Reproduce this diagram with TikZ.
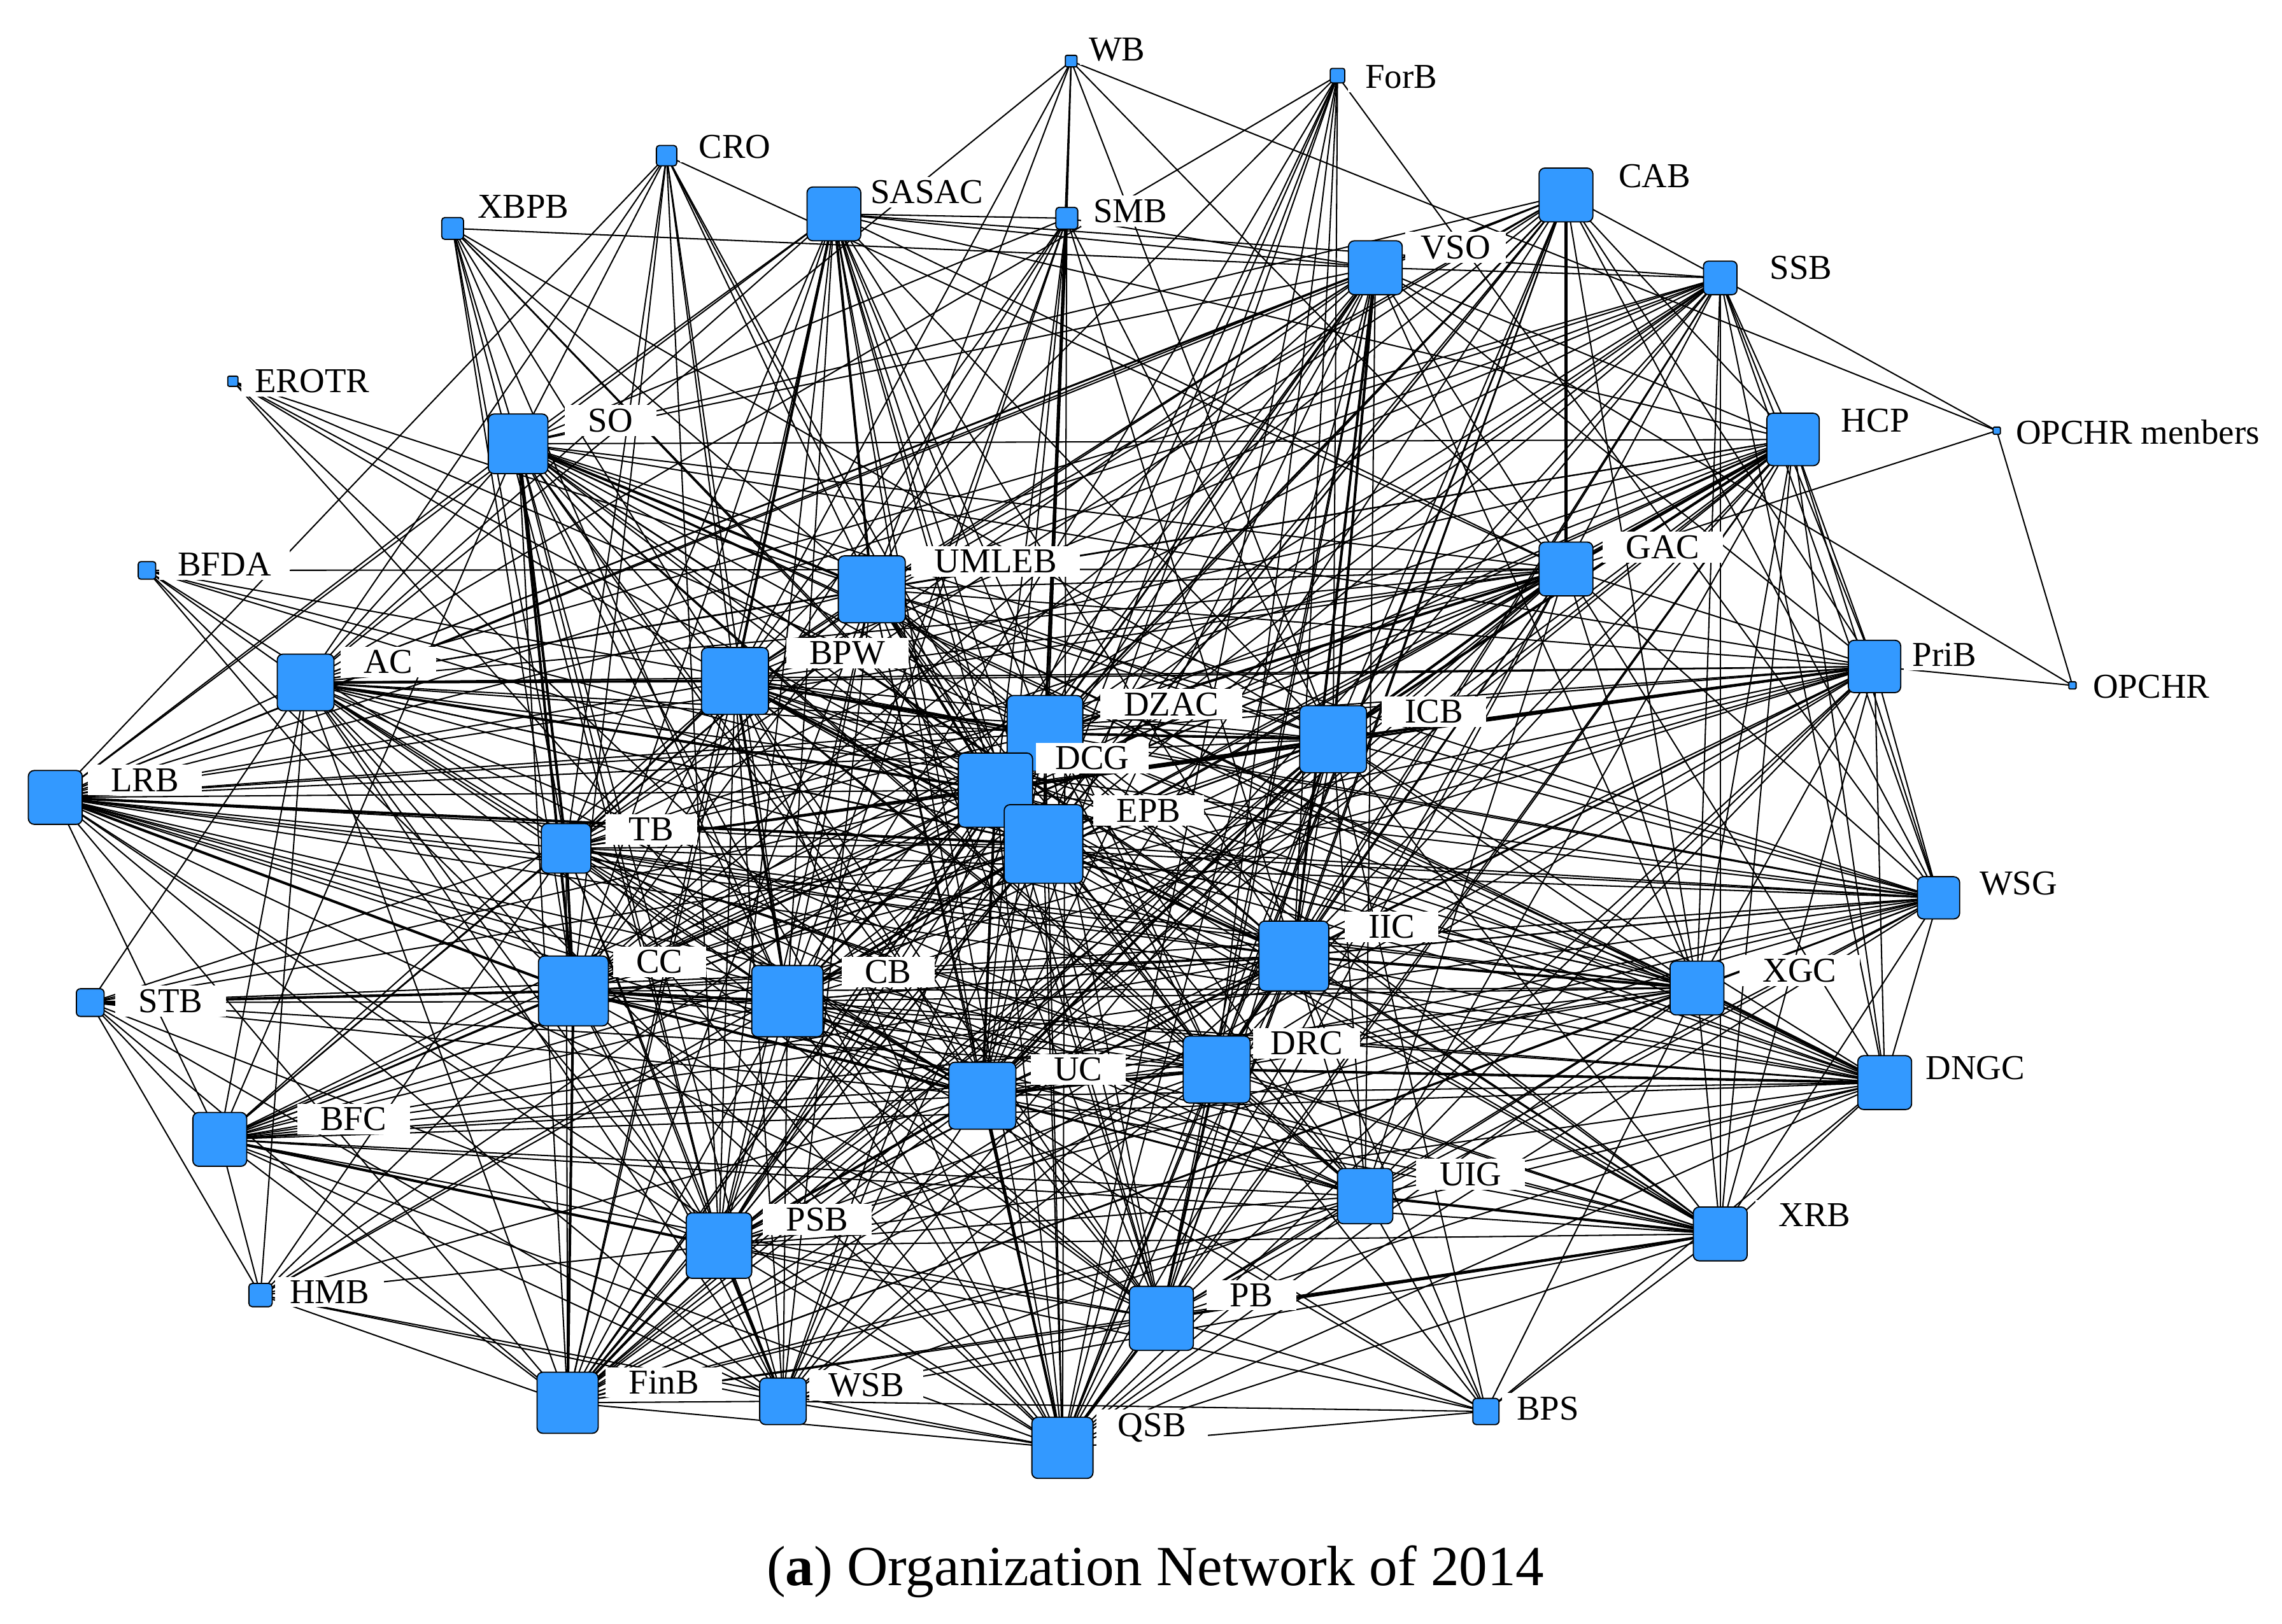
\documentclass[tikz,border=0pt]{standalone}
\usepackage{fontspec}
\setmainfont{Liberation Serif}
\pgfdeclarelayer{bg}
\pgfsetlayers{bg,main}
\definecolor{nodeblue}{RGB}{51,153,255}
\tikzset{
  box/.style={draw=black, line width=0.8pt, fill=nodeblue,
    minimum size=#1, inner sep=0pt},
  lab/.style={fill=white, inner ysep=2.5pt, anchor=west,
    font=\fontsize{24}{26}\selectfont},
  edge/.style={line width=0.9pt, draw=black},
  heavyedge/.style={line width=1.8pt, draw=black},
}
\newcommand\orgnode[7]{%
  \pgfmathsetmacro\rc{min(4,#4/7)}%
  \pgfmathsetmacro\gx{max(2,min(16,#6-#2-#4/2-2))}%
  \node[box=#4pt, rounded corners=\rc pt] (#1) at (#2,#3) {};
  \node[lab, inner xsep=\gx pt] (#1-l) at (#6-\gx,#7) {#5};}
\begin{document}
\begin{tikzpicture}[x=1pt,y=-1pt]
\useasboundingbox (0,0) rectangle (1568,1116);
\orgnode{WB}{736}{42}{8}{WB}{748}{34}
\orgnode{ForB}{919}{52}{10}{ForB}{938}{53}
\orgnode{CRO}{458}{107}{14}{CRO}{480}{101}
\orgnode{XBPB}{311}{157}{15}{XBPB}{328}{142}
\orgnode{SASAC}{573}{147}{37}{SASAC}{598}{132}
\orgnode{SMB}{733}{150}{15}{SMB}{751}{145}
\orgnode{CAB}{1076}{134}{37}{CAB}{1112}{121}
\orgnode{VSO}{945}{184}{37}{VSO}{976}{170}
\orgnode{SSB}{1182}{191}{23}{SSB}{1216}{184}
\orgnode{EROTR}{160}{262}{7}{EROTR}{175}{262}
\orgnode{SO}{356}{305}{41}{SO}{404}{289}
\orgnode{HCP}{1232}{302}{36}{HCP}{1265}{289}
\orgnode{OPCHRm}{1372}{296}{5}{OPCHR menbers}{1385}{297}
\orgnode{BFDA}{101}{392}{12}{BFDA}{122}{388}
\orgnode{UMLEB}{599}{405}{46}{UMLEB}{642}{386}
\orgnode{GAC}{1076}{391}{37}{GAC}{1117}{376}
\orgnode{AC}{210}{469}{39}{AC}{250}{455}
\orgnode{BPW}{505}{468}{46}{BPW}{556}{449}
\orgnode{PriB}{1288}{458}{36}{PriB}{1314}{450}
\orgnode{OPCHR}{1424}{471}{5}{OPCHR}{1438}{472}
\orgnode{ICB}{916}{508}{46}{ICB}{965}{489}
\orgnode{LRB}{38}{548}{37}{LRB}{76}{536}
\orgnode{DZAC}{718}{504}{52}{DZAC}{772}{484}
\orgnode{DCG}{684}{543}{51}{DCG}{725}{521}
\orgnode{EPB}{717}{580}{54}{EPB}{767}{557}
\orgnode{TB}{389}{583}{34}{TB}{432}{570}
\orgnode{WSG}{1332}{617}{29}{WSG}{1360}{607}
\orgnode{IIC}{889}{657}{48}{IIC}{940}{637}
\orgnode{CC}{394}{681}{48}{CC}{437}{661}
\orgnode{CB}{541}{688}{49}{CB}{594}{668}
\orgnode{STB}{62}{689}{19}{STB}{95}{688}
\orgnode{XGC}{1166}{679}{37}{XGC}{1211}{667}
\orgnode{DRC}{836}{735}{46}{DRC}{873}{717}
\orgnode{DNGC}{1295}{744}{37}{DNGC}{1323}{734}
\orgnode{UC}{675}{753}{46}{UC}{724}{735}
\orgnode{BFC}{151}{783}{37}{BFC}{220}{769}
\orgnode{UIG}{938}{822}{38}{UIG}{989}{807}
\orgnode{XRB}{1182}{848}{37}{XRB}{1222}{835}
\orgnode{PSB}{494}{856}{45}{PSB}{540}{838}
\orgnode{HMB}{179}{890}{16}{HMB}{199}{888}
\orgnode{PB}{798}{906}{44}{PB}{845}{890}
\orgnode{FinB}{390}{964}{42}{FinB}{432}{950}
\orgnode{WSB}{538}{963}{32}{WSB}{569}{952}
\orgnode{BPS}{1021}{970}{18}{BPS}{1042}{968}
\orgnode{QSB}{730}{995}{42}{QSB}{768}{981}
\node[font=\fontsize{39}{44}\selectfont] (cap) at (794,1080) {(\textbf{a}) Organization Network of 2014};
\def\Core{DZAC,DCG,EPB,UMLEB,BPW,ICB,IIC,CC,CB,UC,DRC,PSB,PB,FinB,QSB,SO}
\def\Med{SASAC,CAB,VSO,HCP,GAC,AC,PriB,LRB,XGC,DNGC,BFC,UIG,XRB,TB,WSG,WSB}
\begin{pgfonlayer}{bg}
\foreach \a [count=\i] in \Core {\foreach \b [count=\j] in \Core {\ifnum\j>\i\relax \draw[edge] (\a.center) -- (\b.center);\fi}}
\foreach \a in \Med {\foreach \b in \Core {\draw[edge] (\a.center) -- (\b.center);}}
\foreach \a/\b in {SASAC/SMB,SASAC/VSO,SASAC/SSB,SASAC/HCP,SASAC/GAC,SASAC/TB,SASAC/AC,SASAC/LRB,
  CAB/VSO,CAB/HCP,CAB/GAC,CAB/PriB,CAB/XGC,CAB/TB,CAB/AC,CAB/LRB,CAB/WSG,
  VSO/HCP,VSO/GAC,VSO/PriB,VSO/XGC,VSO/AC,VSO/TB,VSO/LRB,VSO/UIG,
  HCP/GAC,HCP/PriB,HCP/XGC,HCP/DNGC,HCP/WSG,HCP/XRB,HCP/AC,HCP/TB,HCP/UIG,
  GAC/PriB,GAC/XGC,GAC/WSG,GAC/DNGC,GAC/AC,GAC/LRB,GAC/TB,GAC/BFC,GAC/UIG,
  AC/LRB,AC/TB,AC/BFC,AC/XGC,AC/UIG,AC/WSB,AC/PriB,AC/WSG,
  PriB/XGC,PriB/DNGC,PriB/WSG,PriB/XRB,PriB/UIG,PriB/LRB,PriB/TB,PriB/BFC,
  LRB/TB,LRB/BFC,LRB/XGC,LRB/DNGC,LRB/WSG,LRB/UIG,LRB/WSB,LRB/XRB,
  XGC/DNGC,XGC/WSG,XGC/XRB,XGC/UIG,XGC/TB,XGC/BFC,
  DNGC/WSG,DNGC/XRB,DNGC/UIG,DNGC/TB,DNGC/BFC,
  BFC/TB,BFC/WSB,BFC/UIG,BFC/XRB,BFC/WSG,
  UIG/XRB,UIG/WSB,UIG/TB,UIG/WSG,XRB/WSB,XRB/WSG,XRB/TB,TB/WSB,TB/WSG}
  {\draw[edge] (\a.center) -- (\b.center);}
\foreach \b in {HCP,GAC,PriB,XGC,DNGC,WSG,XRB,VSO,CAB,OPCHRm,ICB,IIC,DRC,UC,DZAC,EPB,DCG,CB,BPW,UMLEB,AC,LRB,TB,CC}
  {\draw[edge] (SSB.center) -- (\b.center);}
\foreach \b in {WB,VSO,DZAC,EPB,DCG,UMLEB,BPW,CB,UC,QSB,ICB,IIC,CC,PSB,SO}
  {\draw[edge] (SMB.center) -- (\b.center);}
\foreach \b in {SO,TB,CC,BPW,UMLEB,DCG,CB,AC,PSB,EPB,GAC,LRB}
  {\draw[edge] (CRO.center) -- (\b.center);}
\foreach \b in {VSO,SO,TB,CC,BPW,DCG,EPB,UMLEB,CB,ICB,PSB}
  {\draw[edge] (XBPB.center) -- (\b.center);}
\foreach \b in {OPCHRm,GAC,DZAC,EPB,UMLEB,ICB,AC,BPW}
  {\draw[edge] (WB.center) -- (\b.center);}
\foreach \b in {WSG,DZAC,EPB,DCG,UC,QSB,ICB,IIC,CB,DRC,AC,TB}
  {\draw[edge] (ForB.center) -- (\b.center);}
\foreach \b in {DZAC,UC,CB,DCG,UMLEB,BPW}
  {\draw[edge] (EROTR.center) -- (\b.center);}
\foreach \b in {GAC,DZAC,DCG,EPB,AC,CC,PSB,UC}
  {\draw[edge] (BFDA.center) -- (\b.center);}
\foreach \b in {BFC,CC,TB,CB,AC,PSB,FinB,QSB,UC,DCG,EPB,WSB}
  {\draw[edge] (HMB.center) -- (\b.center);}
\foreach \b in {CC,CB,UC,BFC,PSB,FinB,DRC,IIC,TB,AC,WSB,DCG,EPB,HMB}
  {\draw[edge] (STB.center) -- (\b.center);}
\foreach \b in {QSB,PB,UIG,DRC,UC,IIC,ICB,XGC,DNGC,XRB,PSB,WSB,CB}
  {\draw[edge] (BPS.center) -- (\b.center);}
\foreach \b in {OPCHRm,PriB,VSO}
  {\draw[edge] (OPCHR.center) -- (\b.center);}
\draw[edge] (OPCHRm.center) -- (GAC.center);
\foreach \a/\b in {SO/TB,SO/CC,SASAC/BPW,SASAC/UMLEB,VSO/ICB,VSO/IIC,CAB/GAC,HCP/ICB,
  DZAC/ICB,DCG/ICB,BPW/EPB,UMLEB/DCG,CC/CB,CB/UC,PSB/WSB,PSB/FinB,FinB/CC,UC/QSB,
  PB/QSB,PB/XRB,DRC/IIC,DRC/UC,LRB/CC,STB/CC,BFC/PSB,AC/DCG,GAC/DZAC,SMB/DZAC,
  UIG/XRB,XGC/DNGC,PriB/ICB,XGC/IIC,LRB/EPB,BPW/CB,DNGC/DRC,SO/UMLEB,BPW/DZAC,
  CB/EPB,UC/DCG,IIC/EPB,ICB/UC,PSB/UC,DRC/PB,TB/CC,CC/UC,AC/BPW,GAC/ICB,HCP/GAC}
  {\draw[heavyedge] (\a.center) -- (\b.center);}
\end{pgfonlayer}
\end{tikzpicture}
\end{document}
